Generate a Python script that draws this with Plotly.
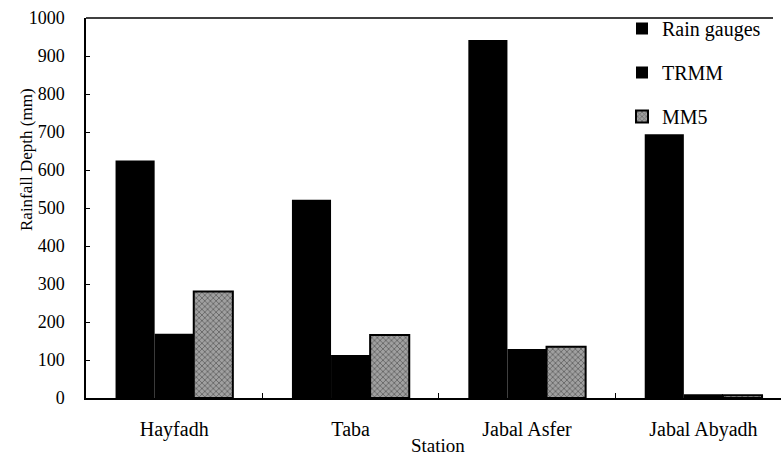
import plotly.graph_objects as go

stations = ["Hayfadh", "Taba", "Jabal Asfer", "Jabal Abyadh"]
rain_gauges = [625, 522, 942, 694]
trmm = [169, 113, 129, 10]
mm5 = [280, 166, 135, 7]
y_ticks = [0, 100, 200, 300, 400, 500, 600, 700, 800, 900, 1000]

FONT = "Liberation Serif"
W, H = 781, 456
L, R, T, B = 86, 0, 18, 58
pw, ph = W - L - R, H - T - B

fig = go.Figure()
fig.add_trace(go.Bar(name="Rain gauges", x=stations, y=rain_gauges,
                     marker=dict(color="black", line=dict(color="black", width=0)),
                     legendgroup="a"))
fig.add_trace(go.Bar(name="TRMM", x=stations, y=trmm,
                     marker=dict(color="black", line=dict(color="black", width=0)),
                     legendgroup="b"))
fig.add_trace(go.Bar(name="MM5", x=stations, y=mm5,
                     marker=dict(color="#8a8a8a", line=dict(color="black", width=2),
                                 pattern=dict(shape="x", fgcolor="#2e2e2e", bgcolor="#a0a0a0",
                                              size=4, solidity=0.4)),
                     legendgroup="c"))


def px_x(x):
    return (x - L) / pw


def px_y(y):
    return (H - B - y) / ph


fig.update_layout(
    width=W, height=H,
    margin=dict(l=L, r=R, t=T, b=B, pad=0, autoexpand=False),
    paper_bgcolor="white", plot_bgcolor="white",
    barmode="group", bargap=0.335, bargroupgap=0,
    font=dict(family=FONT, size=20, color="black"),
    showlegend=True,
    legend=dict(x=px_x(622), y=px_y(9), xanchor="left", yanchor="top",
                bgcolor="rgba(0,0,0,0)", font=dict(family=FONT, size=20),
                tracegroupgap=15, itemwidth=30),
    xaxis=dict(range=[-0.5, 3.44], showline=True, linecolor="black", linewidth=1.5,
               ticks="inside", ticklen=5, tickcolor="black", tickson="boundaries",
               mirror=False, showgrid=False, ticklabelstandoff=12, automargin=False,
               tickfont=dict(family=FONT, size=20)),
    yaxis=dict(range=[0, 1000], tickvals=y_ticks, showline=True, linecolor="black",
               linewidth=1.5, ticks="inside", ticklen=4, tickcolor="black",
               showgrid=False, zeroline=False, ticklabelstandoff=16, automargin=False,
               tickfont=dict(family=FONT, size=18)),
    annotations=[
        dict(text="Rainfall Depth (mm)", x=px_x(26), y=px_y(160), xref="paper", yref="paper",
             xanchor="center", yanchor="middle",
             showarrow=False, textangle=-90, font=dict(family=FONT, size=17)),
        dict(text="Station", x=px_x(438), y=px_y(458), xref="paper", yref="paper",
             xanchor="center", yanchor="bottom",
             showarrow=False, font=dict(family=FONT, size=19)),
    ],
)

# top border line
fig.add_shape(type="line", xref="paper", yref="paper", x0=0, x1=px_x(773), y0=1, y1=1,
              line=dict(color="black", width=1.5))

fig.write_html("out.html", config={"displayModeBar": False},
               post_script="document.body.style.margin='0';document.body.style.padding='0';")
